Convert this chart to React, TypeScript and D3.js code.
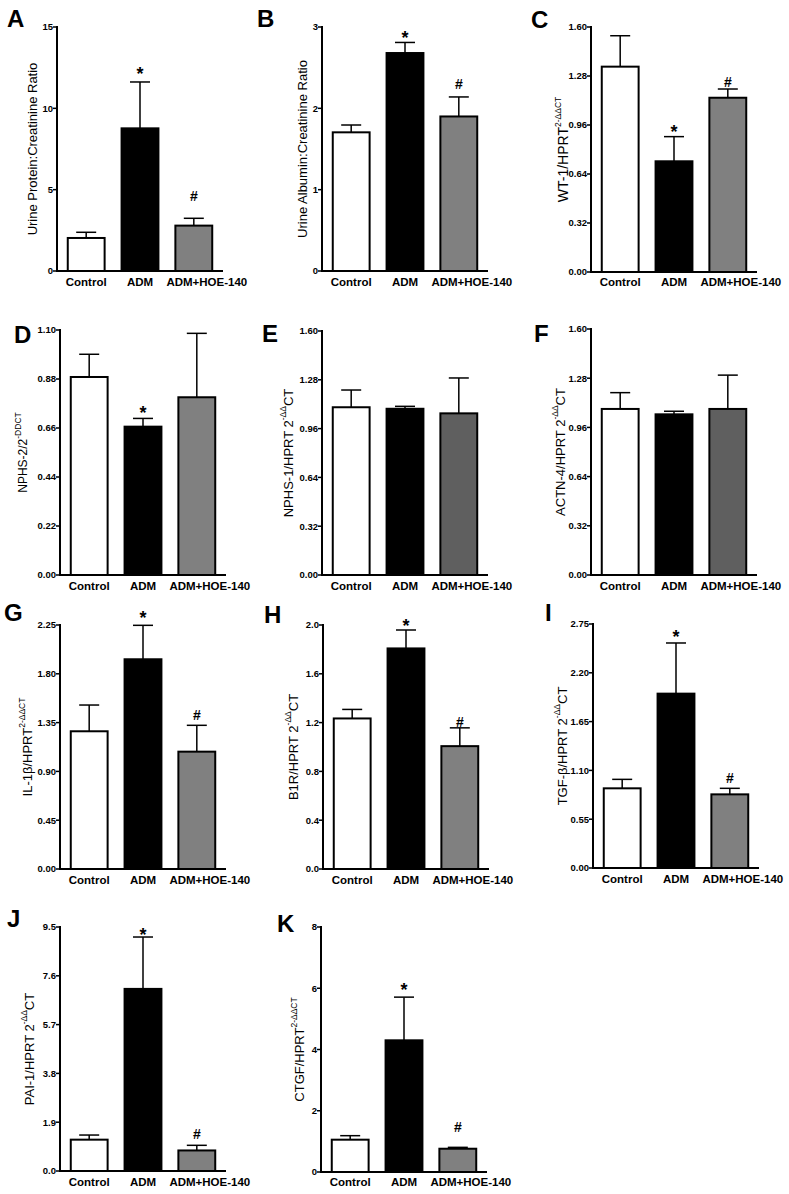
import React from "react";
import * as d3 from "d3";

const groups = ["Control", "ADM", "ADM+HOE-140"];
const letters = ["A", "B", "C", "D", "E", "F", "G", "H", "I", "J", "K"];

// means and upper error-bar ends, per panel
const meanA = [2.03, 8.77, 2.79];
const upperA = [2.38, 11.62, 3.24];
const meanB = [1.705, 2.68, 1.9];
const upperB = [1.795, 2.81, 2.14];
const meanC = [1.341, 0.723, 1.138];
const upperC = [1.543, 0.884, 1.195];
const meanD = [0.889, 0.666, 0.798];
const upperD = [0.991, 0.703, 1.085];
const meanE = [1.1, 1.09, 1.06];
const upperE = [1.213, 1.106, 1.292];
const meanF = [1.08, 1.045, 1.08];
const upperF = [1.186, 1.065, 1.3];
const meanG = [1.27, 1.934, 1.082];
const upperG = [1.512, 2.247, 1.325];
const meanH = [1.234, 1.808, 1.007];
const upperH = [1.308, 1.959, 1.157];
const meanI = [0.898, 1.965, 0.83];
const upperI = [0.999, 2.536, 0.898];
const meanJ = [1.22, 7.09, 0.8];
const upperJ = [1.4, 9.11, 1.0];
const meanK = [1.055, 4.3, 0.76];
const upperK = [1.186, 5.71, 0.805];

// y-axis ticks
const ticksA = [0, 5, 10, 15];
const ticksB = [0, 1, 2, 3];
const ticksC = [0, 0.32, 0.64, 0.96, 1.28, 1.6];
const ticksD = [0, 0.22, 0.44, 0.66, 0.88, 1.1];
const ticksE = [0, 0.32, 0.64, 0.96, 1.28, 1.6];
const ticksF = [0, 0.32, 0.64, 0.96, 1.28, 1.6];
const ticksG = [0, 0.45, 0.9, 1.35, 1.8, 2.25];
const ticksH = [0, 0.4, 0.8, 1.2, 1.6, 2.0];
const ticksI = [0, 0.55, 1.1, 1.65, 2.2, 2.75];
const ticksJ = [0, 1.9, 3.8, 5.7, 7.6, 9.5];
const ticksK = [0, 2, 4, 6, 8];
const tickDecimals = [0, 0, 2, 2, 2, 2, 2, 1, 2, 1, 0];

// y-axis titles: [text, superscript?]
const titleA: [string, boolean][] = [["Urine Protein:Creatinine Ratio", false]];
const titleB: [string, boolean][] = [["Urine Albumin:Creatinine Ratio", false]];
const titleC: [string, boolean][] = [["WT-1/HPRT", false], ["2-\u0394\u0394CT", true]];
const titleD: [string, boolean][] = [["NPHS-2/2", false], ["-DDCT", true]];
const titleE: [string, boolean][] = [["NPHS-1/HPRT 2", false], ["-\u0394\u0394", true], ["CT", false]];
const titleF: [string, boolean][] = [["ACTN-4/HPRT 2", false], ["-\u0394\u0394", true], ["CT", false]];
const titleG: [string, boolean][] = [["IL-1\u03b2/HPRT", false], ["2-\u0394\u0394CT", true]];
const titleH: [string, boolean][] = [["B1R/HPRT 2", false], ["-\u0394\u0394", true], ["CT", false]];
const titleI: [string, boolean][] = [["TGF-\u03b2/HPRT 2", false], ["-\u0394\u0394", true], ["CT", false]];
const titleJ: [string, boolean][] = [["PAI-1/HPRT 2", false], ["-\u0394\u0394", true], ["CT", false]];
const titleK: [string, boolean][] = [["CTGF/HPRT", false], ["2-\u0394\u0394CT", true]];

// significance marks: [groupIndex, symbol, y value]
const sigA: [number, string, number][] = [[1, "*", 11.74], [2, "#", 4.3]];
const sigB: [number, string, number][] = [[1, "*", 2.79], [2, "#", 2.24]];
const sigC: [number, string, number][] = [[1, "*", 0.875], [2, "#", 1.208]];
const sigD: [number, string, number][] = [[1, "*", 0.7]];
const sigE: [number, string, number][] = [];
const sigF: [number, string, number][] = [];
const sigG: [number, string, number][] = [[1, "*", 2.26], [2, "#", 1.374]];
const sigH: [number, string, number][] = [[1, "*", 1.94], [2, "#", 1.164]];
const sigI: [number, string, number][] = [[1, "*", 2.536], [2, "#", 0.958]];
const sigJ: [number, string, number][] = [[1, "*", 8.95], [2, "#", 1.25]];
const sigK: [number, string, number][] = [[1, "*", 5.75], [2, "#", 1.31]];

const means = [meanA, meanB, meanC, meanD, meanE, meanF, meanG, meanH, meanI, meanJ, meanK];
const uppers = [upperA, upperB, upperC, upperD, upperE, upperF, upperG, upperH, upperI, upperJ, upperK];
const ticks = [ticksA, ticksB, ticksC, ticksD, ticksE, ticksF, ticksG, ticksH, ticksI, ticksJ, ticksK];
const titles = [titleA, titleB, titleC, titleD, titleE, titleF, titleG, titleH, titleI, titleJ, titleK];
const sigs = [sigA, sigB, sigC, sigD, sigE, sigF, sigG, sigH, sigI, sigJ, sigK];

// layout (pixels)
const layout = [
  { ax: 57, top: 27, bottom: 271, tx: 32, ts: 13, lx: 7, ly: 27, cy: 286 },
  { ax: 322, top: 27, bottom: 271, tx: 302, ts: 13, lx: 257, ly: 27, cy: 286 },
  { ax: 591, top: 27, bottom: 272, tx: 563, ts: 14, lx: 531, ly: 28, cy: 286 },
  { ax: 60, top: 330, bottom: 575, tx: 23, ts: 12, lx: 14, ly: 343, cy: 590 },
  { ax: 322, top: 331, bottom: 575, tx: 288, ts: 13, lx: 262, ly: 342, cy: 590 },
  { ax: 591, top: 329, bottom: 575, tx: 560, ts: 13, lx: 534, ly: 342, cy: 590 },
  { ax: 60, top: 625, bottom: 869, tx: 27, ts: 13, lx: 4, ly: 621, cy: 884 },
  { ax: 323, top: 625, bottom: 869, tx: 293, ts: 13, lx: 264, ly: 623, cy: 884 },
  { ax: 593, top: 624, bottom: 868, tx: 562, ts: 13, lx: 545, ly: 621, cy: 883 },
  { ax: 60, top: 927, bottom: 1171, tx: 29, ts: 13, lx: 7, ly: 927, cy: 1186 },
  { ax: 321, top: 927, bottom: 1172, tx: 299, ts: 13, lx: 277, ly: 932, cy: 1186 },
];

const FONT = "'Liberation Sans', Arial, Helvetica, sans-serif";

function Panel({ i }: { i: number }) {
  const L = layout[i];
  const tk = ticks[i];
  const y = d3.scaleLinear().domain([0, tk[tk.length - 1]]).range([L.bottom, L.top]);
  const x = d3.scaleBand<string>().domain(groups).range([L.ax, L.ax + 166]).paddingInner(0.315).paddingOuter(0.2);
  const fills = ["#ffffff", "#000000", i === 4 || i === 5 ? "#5f5f5f" : "#808080"];
  const fmt = d3.format(`.${tickDecimals[i]}f`);
  const midY = (L.top + L.bottom) / 2;
  const bw = x.bandwidth();
  return (
    <g>
      <text x={L.lx} y={L.ly} fontSize={24} fontWeight="bold" fontFamily={FONT}>{letters[i]}</text>
      {/* bars */}
      {groups.map((g, k) => {
        const x0 = x(g)!;
        const cx = x0 + bw / 2;
        const last = k === groups.length - 1;
        return (
          <g key={g}>
            <line x1={cx} x2={cx} y1={y(means[i][k])} y2={y(uppers[i][k])} stroke="#000" strokeWidth={1.5} />
            <line x1={cx - 10} x2={cx + 10} y1={y(uppers[i][k])} y2={y(uppers[i][k])} stroke="#000" strokeWidth={1.5} />
            <rect x={x0} y={y(means[i][k])} width={bw} height={L.bottom - y(means[i][k])} fill={fills[k]} stroke="#000" strokeWidth={2} />
            <text x={last ? x0 - 9 : cx} y={L.cy} textAnchor={last ? "start" : "middle"} fontSize={11.5} fontWeight="bold" fontFamily={FONT}>{g}</text>
          </g>
        );
      })}
      {/* axes */}
      <line x1={L.ax} x2={L.ax} y1={L.top - 1} y2={L.bottom + 1} stroke="#000" strokeWidth={2} />
      <line x1={L.ax - 1} x2={L.ax + 166} y1={L.bottom} y2={L.bottom} stroke="#000" strokeWidth={2} />
      {tk.map((t) => (
        <g key={t}>
          <line x1={L.ax - 4} x2={L.ax} y1={y(t)} y2={y(t)} stroke="#000" strokeWidth={1.5} />
          <text x={L.ax - 4} y={y(t) + 3.3} textAnchor="end" fontSize={9.5} fontWeight="bold" fontFamily={FONT}>{fmt(t)}</text>
        </g>
      ))}
      {/* significance */}
      {sigs[i].map(([k, s, v]) => (
        <text key={s} x={x(groups[k])! + bw / 2} y={y(v)} textAnchor="middle" fontSize={s === "*" ? 18 : 14} fontWeight="bold" fontFamily={FONT}>{s}</text>
      ))}
      {/* y title */}
      <text transform={`translate(${L.tx},${midY}) rotate(-90)`} textAnchor="middle" dominantBaseline="central" fontSize={L.ts} fontFamily={FONT}>
        {titles[i].map(([t, sup], j) => (
          <tspan key={j} fontSize={sup ? 8.5 : L.ts} baselineShift={sup ? "super" : undefined}>{t}</tspan>
        ))}
      </text>
    </g>
  );
}

export default function App() {
  return (
    <svg width={789} height={1194} style={{ position: "absolute", left: 0, top: 0, background: "#fff" }}>
      <rect width={789} height={1194} fill="#fff" />
      {letters.map((_, i) => (
        <Panel key={i} i={i} />
      ))}
    </svg>
  );
}
